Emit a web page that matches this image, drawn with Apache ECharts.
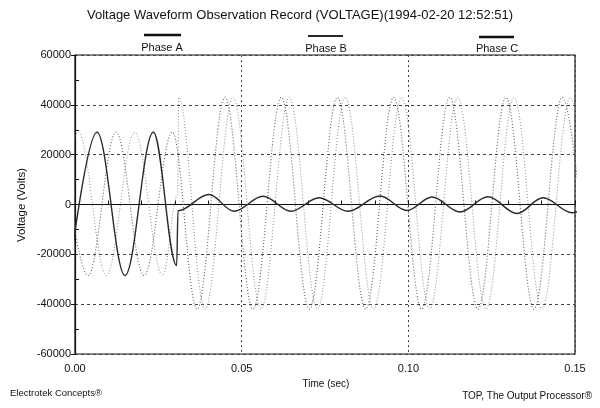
<!DOCTYPE html>
<html><head><meta charset="utf-8">
<script src="https://cdn.jsdelivr.net/npm/echarts@6/dist/echarts.min.js"></script>
<style>html,body{margin:0;padding:0;background:#fff}#c{width:600px;height:408px}</style>
</head><body><div id="c"></div>
<script>
// ---- chart texts ----
const chartTitle = 'Voltage Waveform Observation Record (VOLTAGE)(1994-02-20 12:52:51)';
const seriesNames = ['Phase A', 'Phase B', 'Phase C'];
const xAxisTitle = 'Time (sec)';
const yAxisTitle = 'Voltage (Volts)';
const footLeft = 'Electrotek Concepts\u00AE';
const footRight = 'TOP, The Output Processor\u00AE';

// ---- axis ticks ----
const xTicks = [0, 0.05, 0.10, 0.15];
const yTicks = [-60000, -40000, -20000, 0, 20000, 40000, 60000];

// ---- waveform readings (peaks, troughs, fault step) ----
const phaseATime  = [-0.0018, 0.0066, 0.0150, 0.0235, 0.0305, 0.0309, 0.0402, 0.0477, 0.0564, 0.0648, 0.0732, 0.0819, 0.0915, 0.0996, 0.1071, 0.1155, 0.1239, 0.1326, 0.1404, 0.1491, 0.1575];
const phaseAVolts = [-28500, 29000, -28500, 29000, -24500, -2500, 4000, -2700, 3300, -2700, 2700, -2700, 3400, -2400, 3000, -3000, 3100, -3600, 2700, -3300, 2700];

const phaseBTime  = [-0.0046, 0.0039, 0.0123, 0.0207, 0.0292, 0.0366, 0.0450, 0.0534, 0.0619, 0.0703, 0.0787, 0.0872, 0.0956, 0.1040, 0.1124, 0.1209, 0.1293, 0.1377, 0.1462, 0.1546];
const phaseBVolts = [29000, -28500, 29000, -28500, 29000, -42000, 43000, -42000, 43000, -42000, 43000, -42000, 43000, -42000, 43000, -42000, 43000, -42000, 43000, -42000];

const phaseCTime  = [-0.0074, 0.0010, 0.0094, 0.0179, 0.0263, 0.0308, 0.0311, 0.0390, 0.0474, 0.0558, 0.0643, 0.0727, 0.0811, 0.0896, 0.0980, 0.1064, 0.1148, 0.1233, 0.1317, 0.1401, 0.1486, 0.1570];
const phaseCVolts = [-28500, 29000, -28500, 29000, -28500, 4000, 43000, -42000, 43000, -42000, 43000, -42000, 43000, -42000, 43000, -42000, 43000, -42000, 43000, -42000, 43000, -42000];

function zip(t, v) { return t.map((x, i) => [x, v[i]]); }

const FONT = '"Liberation Sans", Arial, sans-serif';
const chart = echarts.init(document.getElementById('c'), null, {renderer: 'canvas'});

const lineBase = {type: 'line', showSymbol: false, smooth: 0.36, smoothMonotone: 'x', clip: true, animation: false};

chart.setOption({
  animation: false,
  backgroundColor: '#fff',
  grid: {left: 75, right: 25, top: 55, bottom: 54, show: true, borderColor: '#111', borderWidth: 1.2, backgroundColor: 'transparent'},
  xAxis: {
    type: 'value', min: xTicks[0], max: xTicks[xTicks.length - 1], interval: 0.05,
    axisLine: {lineStyle: {color: '#111', width: 1.2}},
    axisTick: {show: true, inside: true, length: 4, lineStyle: {color: '#111'}},
    minorTick: {show: true, splitNumber: 5, length: 4, lineStyle: {color: '#111'}},
    axisLabel: {fontFamily: FONT, fontSize: 11, color: '#111', margin: 9, formatter: v => v.toFixed(2)},
    splitLine: {show: true, lineStyle: {color: '#444', type: [2, 3], width: 1}}
  },
  yAxis: {
    type: 'value', min: yTicks[0], max: yTicks[yTicks.length - 1], interval: 20000,
    axisLine: {show: true, lineStyle: {color: '#111', width: 1.2}},
    axisTick: {show: true, inside: false, length: 4, lineStyle: {color: '#111'}},
    minorTick: {show: true, splitNumber: 2, length: -4, lineStyle: {color: '#111'}},
    axisLabel: {fontFamily: FONT, fontSize: 11, color: '#111', margin: 4, formatter: v => String(v)},
    splitLine: {show: true, lineStyle: {color: '#444', type: [3, 3], width: 1}}
  },
  series: [
    Object.assign({}, lineBase, {name: seriesNames[2], data: zip(phaseCTime, phaseCVolts), lineStyle: {color: '#8a8a8a', width: 1, type: [1, 2]}, z: 3}),
    Object.assign({}, lineBase, {name: seriesNames[1], data: zip(phaseBTime, phaseBVolts), lineStyle: {color: '#606060', width: 1.1, type: [1, 2]}, z: 4}),
    Object.assign({}, lineBase, {name: seriesNames[0], data: zip(phaseATime, phaseAVolts), lineStyle: {color: '#2a2a2a', width: 1.4}, z: 5})
  ],
  graphic: [
    {type: 'text', left: 'center', top: 9, style: {text: chartTitle, fontFamily: FONT, fontSize: 13, fill: '#111'}},
    {type: 'line', shape: {x1: 144, y1: 35, x2: 181, y2: 35}, style: {stroke: '#111', lineWidth: 2.5}},
    {type: 'line', shape: {x1: 308, y1: 36, x2: 343, y2: 36}, style: {stroke: '#2a2a2a', lineWidth: 2.2}},
    {type: 'line', shape: {x1: 479, y1: 37, x2: 514, y2: 37}, style: {stroke: '#111', lineWidth: 2.5}},
    {type: 'text', x: 162, y: 48, style: {text: seriesNames[0], fontFamily: FONT, fontSize: 11, fill: '#111', align: 'center', verticalAlign: 'middle'}},
    {type: 'text', x: 326, y: 49, style: {text: seriesNames[1], fontFamily: FONT, fontSize: 11, fill: '#111', align: 'center', verticalAlign: 'middle'}},
    {type: 'text', x: 497, y: 49, style: {text: seriesNames[2], fontFamily: FONT, fontSize: 11, fill: '#111', align: 'center', verticalAlign: 'middle'}},
    {type: 'text', x: 22, y: 205, rotation: Math.PI / 2, style: {text: yAxisTitle, fontFamily: FONT, fontSize: 11.5, fill: '#111', align: 'center', verticalAlign: 'middle'}},
    {type: 'text', x: 326, y: 384, style: {text: xAxisTitle, fontFamily: FONT, fontSize: 10, fill: '#111', align: 'center', verticalAlign: 'middle'}},
    {type: 'text', x: 10, y: 393, style: {text: footLeft, fontFamily: FONT, fontSize: 9.5, fill: '#111', align: 'left', verticalAlign: 'middle'}},
    {type: 'text', x: 592, y: 396, style: {text: footRight, fontFamily: FONT, fontSize: 10, fill: '#111', align: 'right', verticalAlign: 'middle'}}
  ]
});
</script></body></html>
